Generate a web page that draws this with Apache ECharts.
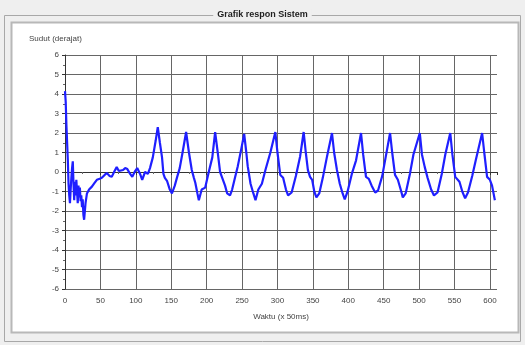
<!DOCTYPE html>
<html>
<head>
<meta charset="utf-8">
<script src="https://cdn.jsdelivr.net/npm/echarts@6/dist/echarts.min.js"></script>
<style>
  html, body { margin: 0; padding: 0; background: #efefef; }
  #chart { width: 525px; height: 345px; }
</style>
</head>
<body>
<div id="chart"></div>
<script>
// Time steps (x 50 ms) and the measured system angle (degrees) at each step
const timeSteps = [
  0, 1, 2, 4, 5, 6, 7, 8, 9, 10, 11, 12, 13, 14, 15, 16, 17, 18, 19, 20,
  21, 22, 23, 24, 25, 26, 27, 29,
  31, 34, 38, 42, 45, 49, 52, 56, 59, 63, 66, 70, 73, 76, 78, 82, 85, 88, 92, 95,
  99, 102, 106, 109, 113, 117, 120, 124, 128, 131, 134, 137, 139, 141, 144, 148, 151, 155, 158, 162,
  166, 171, 175, 179, 182, 184, 187, 189, 193, 198, 203, 208, 212, 216, 219, 222, 226, 229, 233, 236,
  240, 244, 249, 253, 256, 258, 262, 266, 269, 273, 278, 283, 290, 297, 300, 304, 308, 312, 315, 320,
  326, 332, 337, 340, 343, 346, 349, 352, 355, 359, 364, 370, 377, 380, 384, 388, 392, 395, 399, 405,
  411, 418, 421, 425, 429, 433, 438, 442, 448, 453, 459, 462, 466, 470, 474, 477, 481, 487, 492, 501,
  504, 508, 512, 517, 521, 526, 532, 537, 544, 547, 551, 557, 561, 565, 569, 575, 580, 589, 592, 596,
  600, 603, 607
];
const angles = [
  4.15, 3.6, 2.4, 0.6, -0.6, -1.2, -1.6, -0.9, -0.3, 0.2, 0.55, -0.6, -1.45, -0.5, -1.2, -0.4, -0.3, -1.6, -0.7, -1.3,
  -0.8, -1.5, -1.2, -1.8, -1.4, -2.2, -2.45, -1.6,
  -1.1, -0.9, -0.75, -0.55, -0.4, -0.35, -0.3, -0.15, -0.05, -0.2, -0.25, 0.05, 0.25, 0.05, 0.0, 0.1, 0.2, 0.15, -0.1, -0.25,
  0.05, 0.2, -0.1, -0.4, 0.0, -0.1, 0.2, 0.75, 1.6, 2.3, 1.5, 0.75, -0.1, -0.3, -0.45, -0.9, -1.1, -0.7, -0.3, 0.2,
  1.0, 2.05, 1.0, 0.1, -0.3, -0.55, -1.1, -1.45, -0.9, -0.8, 0.0, 0.75, 2.05, 0.9, 0.0, -0.3, -0.7, -1.1, -1.2, -0.9,
  -0.3, 0.3, 1.2, 1.95, 1.0, 0.3, -0.6, -1.1, -1.45, -0.9, -0.6, 0.1, 1.0, 2.05, 1.0, -0.15, -0.3, -0.9, -1.2, -1.05,
  -0.2, 0.8, 2.05, 1.0, 0.1, -0.25, -0.4, -1.0, -1.3, -1.1, -0.3, 0.8, 2.0, 1.0, 0.1, -0.6, -1.1, -1.4, -1.0, -0.1,
  0.6, 2.0, 0.9, -0.25, -0.35, -0.7, -1.05, -0.95, -0.2, 0.8, 2.0, 1.0, -0.15, -0.4, -0.9, -1.3, -1.1, -0.1, 0.9, 2.0,
  0.9, 0.25, -0.3, -0.9, -1.2, -1.05, -0.1, 0.9, 2.0, 0.9, -0.25, -0.5, -1.0, -1.35, -1.05, -0.2, 0.6, 2.0, 1.0, -0.25,
  -0.4, -0.7, -1.45
];

const chartTitle = 'Grafik respon Sistem';
const yAxisName = 'Sudut (derajat)';
const xAxisName = 'Waktu (x 50ms)';

const points = timeSteps.map((t, i) => [t, angles[i]]);

// vertical grid lines: 0..600 every 50, the extent end (610) left blank
const xGridColors = [];
for (let v = 0; v <= 600; v += 50) xGridColors.push('#666666');
xGridColors.push('rgba(0,0,0,0)');

const font = 'Liberation Sans, Arial, sans-serif';

const chart = echarts.init(document.getElementById('chart'), null, { renderer: 'canvas' });
chart.setOption({
  backgroundColor: '#efefef',
  animation: false,
  graphic: [
    // outer group box
    { type: 'rect', shape: { x: 4.5, y: 15.5, width: 516, height: 326 },
      style: { fill: 'none', stroke: '#a8a8a8', lineWidth: 1 }, z: 0 },
    // inner white panel
    { type: 'rect', shape: { x: 11.5, y: 22.5, width: 507, height: 310 },
      style: { fill: '#ffffff', stroke: '#b8b8b8', lineWidth: 2 }, z: 0 },
    // group box caption
    { type: 'text', left: 'center', top: 9, z: 10,
      style: { text: chartTitle, fontFamily: font,
               fontSize: 9, fontWeight: 'bold', fill: '#222',
               backgroundColor: '#efefef', padding: [1, 4] } }
  ],
  grid: { left: 65, right: 28, top: 55, bottom: 56 },
  xAxis: {
    type: 'value', min: 0, max: 610, interval: 50,
    name: xAxisName, nameLocation: 'middle', nameGap: 24,
    nameTextStyle: { fontSize: 8, color: '#444', fontFamily: font },
    axisLine: { show: true, lineStyle: { color: '#333', width: 1 } },
    axisTick: { show: true, length: 3, lineStyle: { color: '#333' } },
    minorTick: { show: true, splitNumber: 2, length: 2, lineStyle: { color: '#666' } },
    axisLabel: { fontSize: 8, color: '#444', margin: 8, showMaxLabel: false, fontFamily: font },
    splitLine: { show: true, lineStyle: { color: xGridColors, width: 1 } }
  },
  yAxis: {
    type: 'value', min: -6, max: 6, interval: 1,
    name: yAxisName, nameLocation: 'end', nameGap: 12,
    nameTextStyle: { fontSize: 8, color: '#444', align: 'left', padding: [0, 0, 0, -36], fontFamily: font },
    axisLine: { show: true, lineStyle: { color: '#333', width: 1 } },
    axisTick: { show: true, length: 3, lineStyle: { color: '#333' } },
    minorTick: { show: true, splitNumber: 2, length: 2, lineStyle: { color: '#666' } },
    axisLabel: { fontSize: 8, color: '#444', margin: 6, fontFamily: font },
    splitLine: { show: true, lineStyle: { color: '#666666', width: 1 } }
  },
  series: [{
    type: 'line',
    data: points,
    showSymbol: false,
    lineStyle: { color: '#1f1fff', width: 2.2 },
    z: 5
  }]
});
</script>
</body>
</html>
